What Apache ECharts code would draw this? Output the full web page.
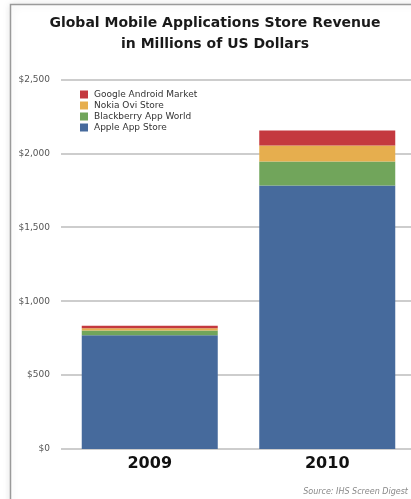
<!DOCTYPE html>
<html>
<head>
<meta charset="utf-8">
<script src="https://cdn.jsdelivr.net/npm/echarts@6/dist/echarts.min.js"></script>
<style>
html,body{margin:0;padding:0;background:#fff;overflow:hidden;}
#chart{width:416px;height:499px;}
</style>
</head>
<body>
<div id="chart"></div>
<script>
const categories = ['2009', '2010'];
const seriesNames = ['Apple App Store', 'Blackberry App World', 'Nokia Ovi Store', 'Google Android Market'];
const appleApp = [769, 1782];
const blackberryApp = [32, 162];
const nokiaOvi = [16, 109];
const googleAndroid = [17, 102];
const yTicks = [0, 500, 1000, 1500, 2000, 2500];
const titleLines = ['Global Mobile Applications Store Revenue', 'in Millions of US Dollars'];
const sourceText = 'Source: IHS Screen Digest';

const colors = ['#466a9c', '#71a55b', '#e6ae4e', '#c4393f'];
const values = [appleApp, blackberryApp, nokiaOvi, googleAndroid];

const chart = echarts.init(document.getElementById('chart'));
const font = 'DejaVu Sans';
chart.setOption({
  animation: false,
  textStyle: { fontFamily: font },
  graphic: [
    { type: 'rect', z: -10, silent: true,
      shape: { x: 10.5, y: 4.5, width: 440, height: 540 },
      style: { fill: '#fff', stroke: '#9a9a9a', lineWidth: 1.5,
               shadowColor: 'rgba(0,0,0,0.12)', shadowBlur: 8 } },
    { type: 'text', silent: true, x: 215, y: 23,
      style: { text: titleLines[0], font: 'bold 14px "DejaVu Sans"', fill: '#1a1a1a',
               textAlign: 'center', textVerticalAlign: 'middle' } },
    { type: 'text', silent: true, x: 215, y: 44,
      style: { text: titleLines[1], font: 'bold 14px "DejaVu Sans"', fill: '#1a1a1a',
               textAlign: 'center', textVerticalAlign: 'middle' } },
    { type: 'text', silent: true, x: 408, y: 492,
      style: { text: sourceText, font: 'italic 8px "DejaVu Sans"', fill: '#888',
               textAlign: 'right', textVerticalAlign: 'middle' } }
  ],
  legend: {
    orient: 'vertical',
    left: 75, top: 84,
    itemWidth: 8, itemHeight: 8, itemGap: 0,
    icon: 'rect',
    data: seriesNames.slice().reverse(),
    textStyle: { fontSize: 9, color: '#333', lineHeight: 11, fontFamily: font, padding: [0, 0, 0, 1] }
  },
  grid: { left: 61, right: 0, top: 79.4, bottom: 50 },
  xAxis: {
    type: 'category',
    data: categories,
    axisLine: { show: false },
    axisTick: { show: false },
    axisLabel: { fontSize: 16, fontWeight: 'bold', color: '#111', margin: 7, fontFamily: font }
  },
  yAxis: {
    type: 'value',
    min: yTicks[0], max: yTicks[yTicks.length - 1], interval: yTicks[1] - yTicks[0],
    axisLine: { show: false },
    axisTick: { show: false },
    splitLine: { lineStyle: { color: '#bdbdbd', width: 1.5 } },
    axisLabel: {
      fontSize: 9, color: '#555', margin: 11, fontFamily: font,
      formatter: v => '$' + v.toLocaleString('en-US')
    }
  },
  series: seriesNames.map((name, i) => ({
    name: name,
    type: 'bar',
    stack: 'total',
    barWidth: 136,
    data: values[i],
    itemStyle: { color: colors[i] }
  }))
});
</script>
</body>
</html>
